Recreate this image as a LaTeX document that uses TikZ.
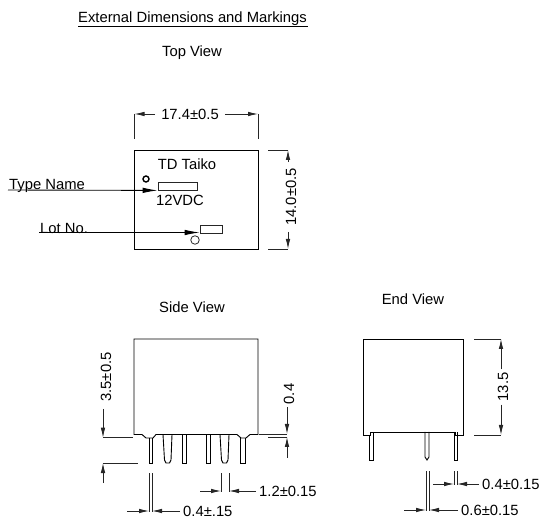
\documentclass[tikz,border=0pt]{standalone}
\usepackage{fontspec}
\setmainfont{Liberation Sans}
\usetikzlibrary{arrows.meta}

\begin{document}
\begin{tikzpicture} [x=1pt, y=-1pt]
    \tikzstyle{every node}=[font=\fontsize{14.8}{16}\selectfont, inner sep=0pt]
    \tikzstyle{outline}=[draw=black, line width=0.9pt]
    \tikzstyle{extline}=[draw=black!85, line width=0.8pt]
    \tikzstyle{dimline}=[draw=black!85, line width=0.8pt, -{Latex[length=10pt,width=4.5pt]}]
    \tikzstyle{leader}=[draw=black, line width=0.9pt, -{Latex[length=15pt,width=5.5pt]}]
    \tikzstyle{dimtext}=[inner xsep=3pt]
    \tikzstyle{marking}=[draw=black!85, line width=0.8pt, minimum height=8pt]
    \useasboundingbox (0,0) rectangle (541,518);

    % Headings
    \node[anchor=west] (heading) at (78,19) {External Dimensions and Markings};
    \draw[outline] (heading.west |- 0,26) -- (308,26);
    \node (topTitle) at (192,53) {Top View};
    \node (sideTitle) at (192,307) {Side View};
    \node (endTitle) at (413,299) {End View};

    % Top view
    \node[outline, minimum width=123.5pt, minimum height=99pt] (topBody) at (196.25,199.5) {};
    \node (maker) at (187,164) {TD Taiko};
    \node (voltage) at (180,200) {12VDC};
    \node[marking, minimum width=39pt] (typeMark) at (177.5,186) {};
    \node[marking, minimum width=22pt] (lotMark) at (211,229) {};
    \node[circle, draw=black, line width=1.4pt, minimum size=6pt] (pinOne) at (146,179) {};
    \node[circle, draw=black!85, line width=0.8pt, minimum size=8.5pt] (lotHole) at (195,240) {};
    \node[anchor=west] (typeName) at (9,186) {Type Name};
    \node[anchor=west] (lotNo) at (40,228) {Lot No.};
    \coordinate (typeStart) at (8,190);
    \coordinate (lotStart) at (39,232.5);
    \draw[leader] (typeStart) -- (typeMark.south west);
    \draw[leader] (lotStart) -- (lotMark.south west |- lotStart);

    % Top view dimensions
    \node[dimtext, inner xsep=6pt] (topWidth) at (190,114) {17.4±0.5};
    \coordinate (widthL) at (134.5,114);
    \coordinate (widthR) at (258,114);
    \draw[extline] (widthL) -- (134.5,139);
    \draw[extline] (widthR) -- (258,139);
    \draw[dimline] (topWidth.west) -- (widthL);
    \draw[dimline] (topWidth.east) -- (widthR);
    \node[dimtext, inner xsep=6pt, rotate=90] (topDepth) at (291,197) {14.0±0.5};
    \coordinate (depthT) at (288,150);
    \coordinate (depthB) at (288,249);
    \draw[extline] (268,150) -- (depthT);
    \draw[extline] (268,249) -- (depthB);
    \draw[dimline] (depthT |- topDepth.east) -- (depthT);
    \draw[dimline] (depthB |- topDepth.west) -- (depthB);

    % Side view
    \draw[outline] (134,434.5) -- (134,339) -- (258,339) -- (258,434.5) -- (250,434.5)
        .. controls (248,437) .. (246,438) -- (241,438) .. controls (239,437) .. (237,434.5)
        -- (156,434.5) .. controls (155,437) .. (153,438) -- (146,438)
        .. controls (144,437) .. (142,434.5) -- cycle;
    \draw[outline] (149,438) -- (149,463) -- (152,463) -- (152,438);
    \draw[outline] (163,434.5) -- (164.5,460) -- (166,463) -- (169.5,463) -- (171,460) -- (172,434.5);
    \draw[outline] (182,434.5) -- (182,463) -- (186,463) -- (186,434.5);
    \draw[outline] (206,434.5) -- (206,463) -- (210,463) -- (210,434.5);
    \draw[outline] (220,434.5) -- (221.5,460) -- (223,463) -- (226.5,463) -- (228,460) -- (229,434.5);
    \draw[outline] (240,438) -- (240,463) -- (245,463) -- (245,438);

    % Side view dimensions
    \node[rotate=90] (seatGap) at (106,377) {3.5±0.5};
    \coordinate (seatT) at (103,437.7);
    \coordinate (seatB) at (103,463);
    \draw[extline] (seatT) -- (133,437.7);
    \draw[extline] (seatB) -- (138,463);
    \draw[dimline] (103,409) -- (seatT);
    \draw[dimline] (103,483) -- (seatB);
    \node[rotate=90] (standOff) at (289,394) {0.4};
    \coordinate (standT) at (287,434);
    \coordinate (standB) at (287,437);
    \draw[extline] (259,434) -- (standT);
    \draw[extline] (268,437) -- (standB);
    \draw[dimline] (287,407) -- (standT);
    \draw[dimline] (287,458) -- (standB);
    \node[dimtext, anchor=west] (pinWidth) at (180,511) {0.4±.15};
    \coordinate (pinWidthL) at (149,511);
    \coordinate (pinWidthR) at (152,511);
    \draw[extline] (149,473) -- (149,512);
    \draw[extline] (152,473) -- (152,512);
    \draw[dimline] (127,511) -- (pinWidthL);
    \draw[dimline] (pinWidth.west) -- (pinWidthR);
    \node[dimtext, anchor=west] (pinPitch) at (256,491) {1.2±0.15};
    \coordinate (pinPitchL) at (221,491);
    \coordinate (pinPitchR) at (229,491);
    \draw[extline] (221,473) -- (221,492);
    \draw[extline] (229,473) -- (229,492);
    \draw[dimline] (200,491) -- (pinPitchL);
    \draw[dimline] (pinPitch.west) -- (pinPitchR);

    % End view
    \draw[outline] (363,435) -- (363,339) -- (463,339) -- (463,435) -- (455,435)
        -- (455,432) -- (370,432) -- (370,435) -- cycle;
    \draw[outline] (369,435) -- (369,460) -- (373,460) -- (373,433);
    \draw[outline] (425,432) -- (425,457) -- (427,460) -- (429,457) -- (429,432);
    \draw[outline] (454,432) -- (454,460) -- (457,460) -- (457,432);

    % End view dimensions
    \node[dimtext, rotate=90] (endHeight) at (503,387) {13.5};
    \coordinate (heightT) at (501,339);
    \coordinate (heightB) at (501,435);
    \draw[extline] (474,339) -- (heightT);
    \draw[extline] (474,435) -- (heightB);
    \draw[dimline] (heightT |- endHeight.east) -- (heightT);
    \draw[dimline] (heightB |- endHeight.west) -- (heightB);
    \node[dimtext, anchor=west] (endPin) at (479,484) {0.4±0.15};
    \coordinate (endPinL) at (454,484);
    \coordinate (endPinR) at (457,484);
    \draw[extline] (454,471) -- (454,485);
    \draw[extline] (457,471) -- (457,485);
    \draw[dimline] (433,484) -- (endPinL);
    \draw[dimline] (endPin.west) -- (endPinR);
    \node[dimtext, anchor=west] (endPitch) at (458,510) {0.6±0.15};
    \coordinate (endPitchL) at (426,510);
    \coordinate (endPitchR) at (429,510);
    \draw[extline] (426,471) -- (426,511);
    \draw[extline] (429,471) -- (429,511);
    \draw[dimline] (404,510) -- (endPitchL);
    \draw[dimline] (endPitch.west) -- (endPitchR);
\end{tikzpicture}
\end{document}
